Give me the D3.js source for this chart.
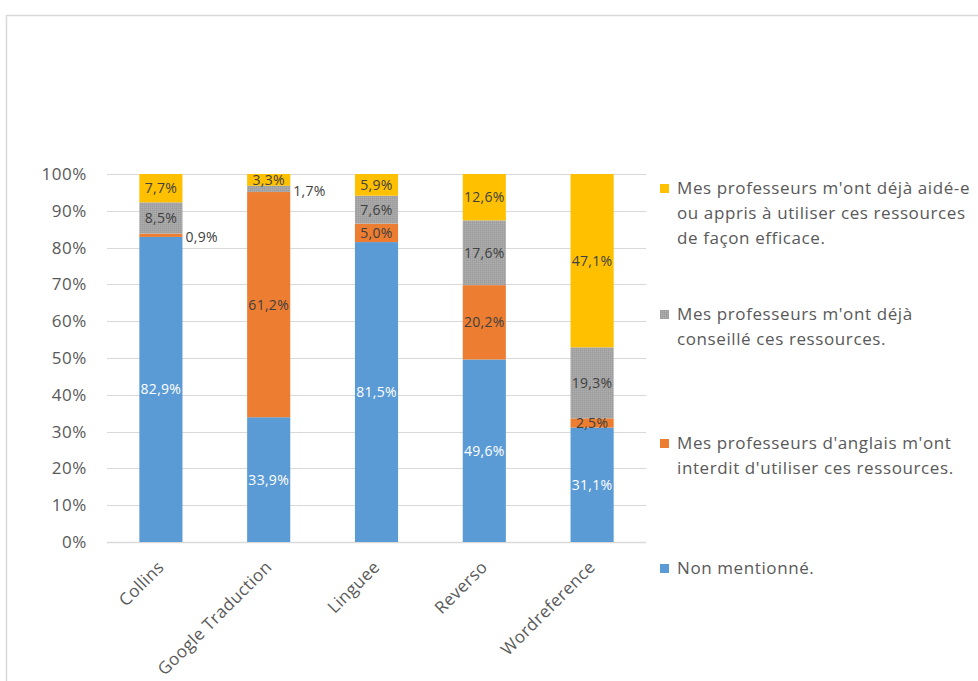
<!DOCTYPE html>
<html>
<head>
<meta charset="utf-8">
<script src="https://cdn.jsdelivr.net/npm/d3@7"></script>
<style>
  body { margin: 0; background: #fff; }
  svg { font-family: "Open Sans", "DejaVu Sans", sans-serif; }
</style>
</head>
<body>
<div class="svgContainer"></div>
<script>
/* chart data */
var categories = ["Collins", "Google Traduction", "Linguee", "Reverso", "Wordreference"];
var nonMentionne = [82.9, 33.9, 81.5, 49.6, 31.1];
var interdit = [0.9, 61.2, 5.0, 20.2, 2.5];
var conseille = [8.5, 1.7, 7.6, 17.6, 19.3];
var aide = [7.7, 3.3, 5.9, 12.6, 47.1];
var yTicks = [0, 10, 20, 30, 40, 50, 60, 70, 80, 90, 100];

/* legend lines as wrapped in the original */
var legendLines = [
  ["Non mentionné."],
  ["Mes professeurs d'anglais m'ont", "interdit d'utiliser ces ressources."],
  ["Mes professeurs m'ont déjà", "conseillé ces ressources."],
  ["Mes professeurs m'ont déjà aidé-e", "ou appris à utiliser ces ressources", "de façon efficace."]
];
var colors = ["#5b9bd5", "#ed7d31", "#a5a5a5", "#ffc000"];
var labelColors = ["#ffffff", "#404040", "#404040", "#404040"];

var width = 978, height = 681;
var svg = d3.select(".svgContainer").append("svg")
    .attr("width", width)
    .attr("height", height);

/* pattern for the grey series */
var pat = svg.append("defs").append("pattern")
    .attr("id", "greyDots")
    .attr("width", 2).attr("height", 2)
    .attr("patternUnits", "userSpaceOnUse");
pat.append("rect").attr("width", 2).attr("height", 2).attr("fill", "#a5a5a5");
pat.append("rect").attr("width", 1).attr("height", 1).attr("fill", "#9c9c9c");
pat.append("rect").attr("x", 1).attr("y", 1).attr("width", 1).attr("height", 1).attr("fill", "#adadad");

/* chart frame */
svg.append("path")
    .attr("d", "M6.5,681 V15.5 H978")
    .attr("fill", "none")
    .attr("stroke", "#d9d9d9")
    .attr("stroke-width", 1.5);

var plot = { left: 107, right: 646, top: 174, bottom: 542 };

var x = d3.scaleBand()
    .domain(categories)
    .range([plot.left, plot.right])
    .paddingInner(0.6)
    .paddingOuter(0.3);

var y = d3.scaleLinear()
    .domain([0, 100])
    .range([plot.bottom, plot.top]);

/* gridlines */
svg.append("g")
    .selectAll("line")
    .data(yTicks)
    .enter().append("line")
      .attr("x1", plot.left)
      .attr("x2", plot.right)
      .attr("y1", function(d) { return Math.round(y(d)) + 0.5; })
      .attr("y2", function(d) { return Math.round(y(d)) + 0.5; })
      .attr("stroke", "#d9d9d9")
      .attr("stroke-width", function(d) { return d === 0 ? 1.5 : 1.2; });

/* y axis labels */
var yAxis = d3.axisLeft(y)
    .tickValues(yTicks)
    .tickSize(0)
    .tickPadding(20)
    .tickFormat(function(d) { return d + "%"; });
var yG = svg.append("g")
    .attr("transform", "translate(" + plot.left + ",0)")
    .call(yAxis);
yG.select(".domain").remove();
yG.selectAll("text")
    .attr("fill", "#595959")
    .style("font-family", "'Open Sans', sans-serif")
    .style("font-size", "17px")
    .style("letter-spacing", "0.6px");

/* stack */
var rows = categories.map(function(c, i) {
  return { cat: c, s0: nonMentionne[i], s1: interdit[i], s2: conseille[i], s3: aide[i] };
});
var stack = d3.stack().keys(["s0", "s1", "s2", "s3"]);
var stacked = stack(rows);

var layers = svg.append("g").selectAll("g")
    .data(stacked)
    .enter().append("g")
      .attr("fill", function(d, i) { return i === 2 ? "url(#greyDots)" : colors[i]; });

layers.selectAll("rect")
    .data(function(d) { return d; })
    .enter().append("rect")
      .attr("x", function(d) { return x(d.data.cat); })
      .attr("width", x.bandwidth())
      .attr("y", function(d) { return y(Math.min(d[1], 100)); })
      .attr("height", function(d) { return y(d[0]) - y(Math.min(d[1], 100)); });

/* data labels */
var labels = svg.append("g")
    .style("font-size", "14px")
    .style("letter-spacing", "0.3px");
stacked.forEach(function(layer, li) {
  layer.forEach(function(d) {
    var v = d[1] - d[0];
    var txt = v.toFixed(1).replace(".", ",") + "%";
    var top = Math.min(d[1], 100);
    var cx = x(d.data.cat) + x.bandwidth() / 2;
    var cy = (y(d[0]) + y(top)) / 2;
    var small = v < 2;
    labels.append("text")
        .attr("x", small ? x(d.data.cat) + x.bandwidth() + 3 : cx)
        .attr("y", small ? cy + 2 : cy)
        .attr("dy", "0.35em")
        .attr("text-anchor", small ? "start" : "middle")
        .attr("fill", small ? "#404040" : labelColors[li])
        .text(txt);
  });
});

/* x axis labels */
svg.append("g").selectAll("text")
    .data(categories)
    .enter().append("text")
      .attr("transform", function(d) {
        return "translate(" + (x(d) + x.bandwidth() / 2) + "," + (plot.bottom + 22) + ") rotate(-45)";
      })
      .attr("text-anchor", "end")
      .attr("dy", "0.35em")
      .attr("fill", "#595959")
      .style("font-size", "17px")
      .style("letter-spacing", "0.4px")
      .text(function(d) { return d; });

/* legend, drawn top-down in reverse series order */
var legendBase = [194, 320, 449, 574];
var order = [3, 2, 1, 0];
var legend = svg.append("g");
order.forEach(function(si, k) {
  var ly = legendBase[k];
  legend.append("rect")
      .attr("x", 660)
      .attr("y", ly - 10)
      .attr("width", 9)
      .attr("height", 9)
      .attr("fill", si === 2 ? "url(#greyDots)" : colors[si]);
  var t = legend.append("text")
      .attr("y", ly)
      .attr("fill", "#595959")
      .style("font-size", "17px")
      .style("letter-spacing", "0.6px");
  legendLines[si].forEach(function(line, j) {
    t.append("tspan")
        .attr("x", 677)
        .attr("dy", j === 0 ? 0 : 25)
        .text(line);
  });
});
</script>
</body>
</html>
